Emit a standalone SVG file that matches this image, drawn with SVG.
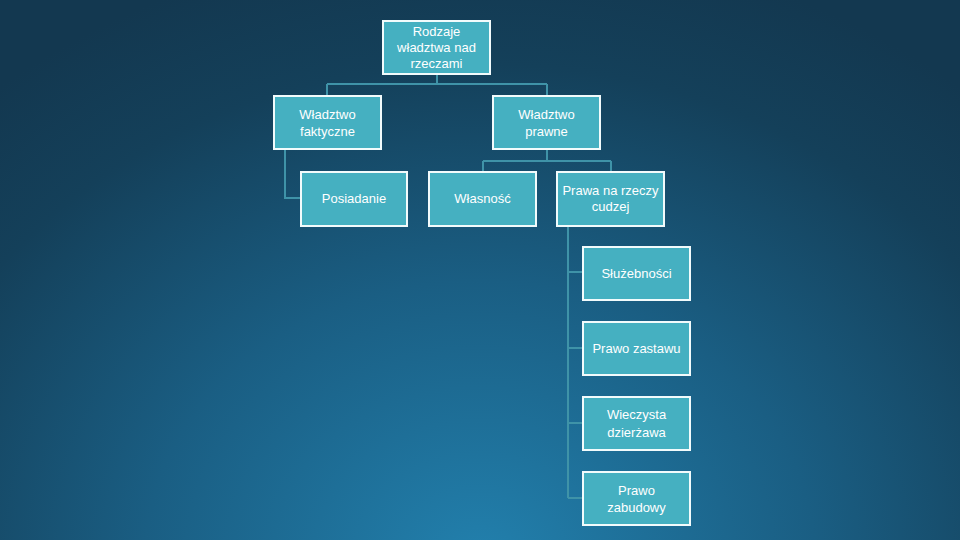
<svg xmlns="http://www.w3.org/2000/svg" width="960" height="540" viewBox="0 0 960 540">
<defs>
<radialGradient id="bg" cx="480" cy="560" r="620" gradientUnits="userSpaceOnUse" gradientTransform="translate(480 560) scale(1.2 1) translate(-480 -560)">
<stop offset="0" stop-color="#2280ad"/>
<stop offset="0.45" stop-color="#1a5e83"/>
<stop offset="0.8" stop-color="#14405a"/>
<stop offset="1" stop-color="#133850"/>
</radialGradient>
<style>
.box rect{fill:#45b0c1;stroke:#f2fbfc;stroke-width:2}
.box text{fill:#ffffff;font-family:"Liberation Sans",Arial,sans-serif;font-size:13px;text-anchor:middle}
.conn path{fill:none;stroke:#3f93a8;stroke-width:2}
</style>
</defs>
<rect width="960" height="540" fill="url(#bg)"/>
<g id="connectors" class="conn">
<path d="M437 74V84M327 84H547M327 84V96M547 84V96"/>
<path d="M285 149V198H301"/>
<path d="M547 149V161M483 161H611M483 161V172M611 161V172"/>
<path d="M568 226V498M568 272H583M568 348H583M568 423H583M568 498H583"/>
</g>
<g id="root" class="box"><rect x="383" y="21" width="107" height="53"/><text x="436.5" y="36">Rodzaje</text><text x="436.5" y="52">władztwa nad</text><text x="436.5" y="68">rzeczami</text></g>
<g id="faktyczne" class="box"><rect x="274" y="96" width="107" height="53"/><text x="327.5" y="119">Władztwo</text><text x="327.5" y="136">faktyczne</text></g>
<g id="prawne" class="box"><rect x="493" y="96" width="107" height="53"/><text x="546.5" y="119">Władztwo</text><text x="546.5" y="136">prawne</text></g>
<g id="posiadanie" class="box"><rect x="301" y="172" width="106" height="54"/><text x="354" y="203">Posiadanie</text></g>
<g id="wlasnosc" class="box"><rect x="429" y="172" width="107" height="54"/><text x="482.5" y="203">Własność</text></g>
<g id="prawa" class="box"><rect x="557" y="172" width="107" height="54"/><text x="610.5" y="195">Prawa na rzeczy</text><text x="610.5" y="211">cudzej</text></g>
<g id="sluzebnosci" class="box"><rect x="583" y="247" width="107" height="53"/><text x="636.5" y="278">Służebności</text></g>
<g id="zastaw" class="box"><rect x="583" y="322" width="107" height="53"/><text x="636.5" y="353">Prawo zastawu</text></g>
<g id="wieczysta" class="box"><rect x="583" y="397" width="107" height="53"/><text x="636.5" y="419">Wieczysta</text><text x="636.5" y="437">dzierżawa</text></g>
<g id="zabudowa" class="box"><rect x="583" y="472" width="107" height="53"/><text x="636.5" y="495">Prawo</text><text x="636.5" y="512">zabudowy</text></g>
</svg>
